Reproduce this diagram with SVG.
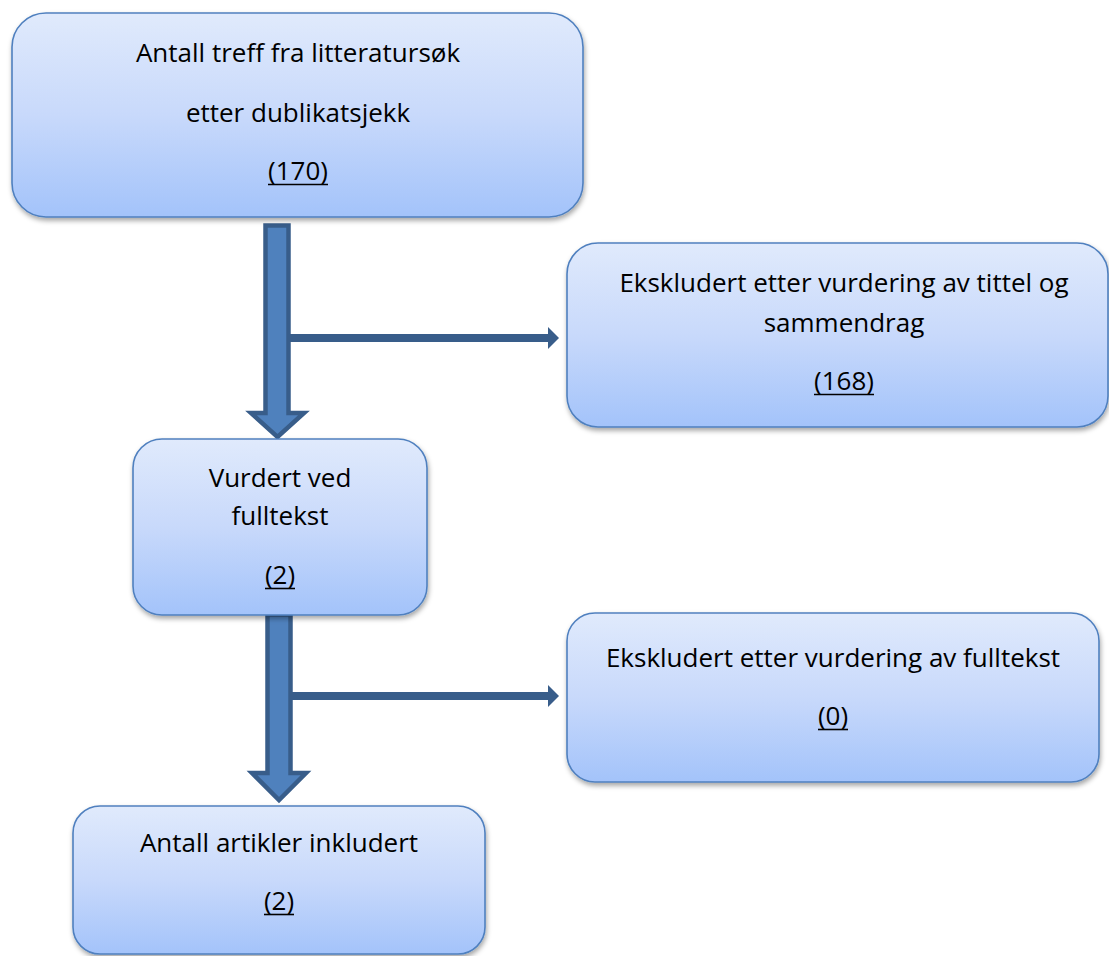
<svg xmlns="http://www.w3.org/2000/svg" width="1109" height="956" viewBox="0 0 1109 956">
<defs>
<linearGradient id="boxFill" x1="0" y1="0" x2="0" y2="1">
<stop offset="0" stop-color="#e0eafc"/>
<stop offset="0.5" stop-color="#c8d9fb"/>
<stop offset="1" stop-color="#a3c3fa"/>
</linearGradient>
<filter id="shadow" x="-10%" y="-10%" width="120%" height="130%">
<feDropShadow dx="1" dy="3" stdDeviation="2.5" flood-color="#000" flood-opacity="0.35"/>
</filter>
</defs>
<style>
.box{fill:url(#boxFill);stroke:#5080bf;stroke-width:1.6;filter:url(#shadow)}
.t{font-family:"Open Sans","Noto Sans","Liberation Sans",sans-serif;font-size:26px;fill:#000;text-anchor:middle}
.ul{stroke:#000;stroke-width:1.6}
.big{fill:#4f81bd;stroke:#385d8a;stroke-width:4.5;stroke-linejoin:miter}
.line{stroke:#385d8a;stroke-width:8;fill:none}
.head{fill:#385d8a}
</style>
<rect width="1109" height="956" fill="#fff"/>
<g id="connectors">
<line class="line" x1="288" y1="338" x2="550" y2="338"/>
<polygon class="head" points="548,327 559,338 548,349"/>
<line class="line" x1="288" y1="696" x2="550" y2="696"/>
<polygon class="head" points="548,685 559,696 548,707"/>
<path class="big" d="M265.5,225.5 L288.5,225.5 L288.5,413 L304,413 L277.5,437 L251,413 L265.5,413 Z"/>
<path class="big" d="M267.5,614.5 L290.5,614.5 L290.5,773 L306,773 L279,800 L252,773 L267.5,773 Z"/>
</g>
<g id="node-treff">
<rect class="box" x="12" y="13" width="571" height="204" rx="34" ry="34"/>
<text class="t" x="298" y="62">Antall treff fra litteratursøk</text>
<text class="t" x="298" y="122">etter dublikatsjekk</text>
<text class="t" x="298" y="180">(170)</text>
<line class="ul" x1="268" y1="184.5" x2="328" y2="184.5"/>
</g>
<g id="node-ekskl-tittel">
<rect class="box" x="567" y="243" width="541" height="184" rx="31" ry="31"/>
<text class="t" x="844" y="292">Ekskludert etter vurdering av tittel og</text>
<text class="t" x="844" y="332">sammendrag</text>
<text class="t" x="844" y="390">(168)</text>
<line class="ul" x1="814" y1="394.5" x2="874" y2="394.5"/>
</g>
<g id="node-vurdert">
<rect class="box" x="133" y="439" width="294" height="176" rx="29" ry="29"/>
<text class="t" x="280" y="487">Vurdert ved</text>
<text class="t" x="280" y="525">fulltekst</text>
<text class="t" x="280" y="584">(2)</text>
<line class="ul" x1="265" y1="588.5" x2="295" y2="588.5"/>
</g>
<g id="node-ekskl-fulltekst">
<rect class="box" x="567" y="613" width="532" height="169" rx="28" ry="28"/>
<text class="t" x="833" y="667">Ekskludert etter vurdering av fulltekst</text>
<text class="t" x="833" y="725">(0)</text>
<line class="ul" x1="818" y1="729.5" x2="848" y2="729.5"/>
</g>
<g id="node-inkludert">
<rect class="box" x="73" y="806" width="412" height="148" rx="27" ry="27"/>
<text class="t" x="279" y="852">Antall artikler inkludert</text>
<text class="t" x="279" y="910">(2)</text>
<line class="ul" x1="264" y1="914.5" x2="294" y2="914.5"/>
</g>
</svg>
